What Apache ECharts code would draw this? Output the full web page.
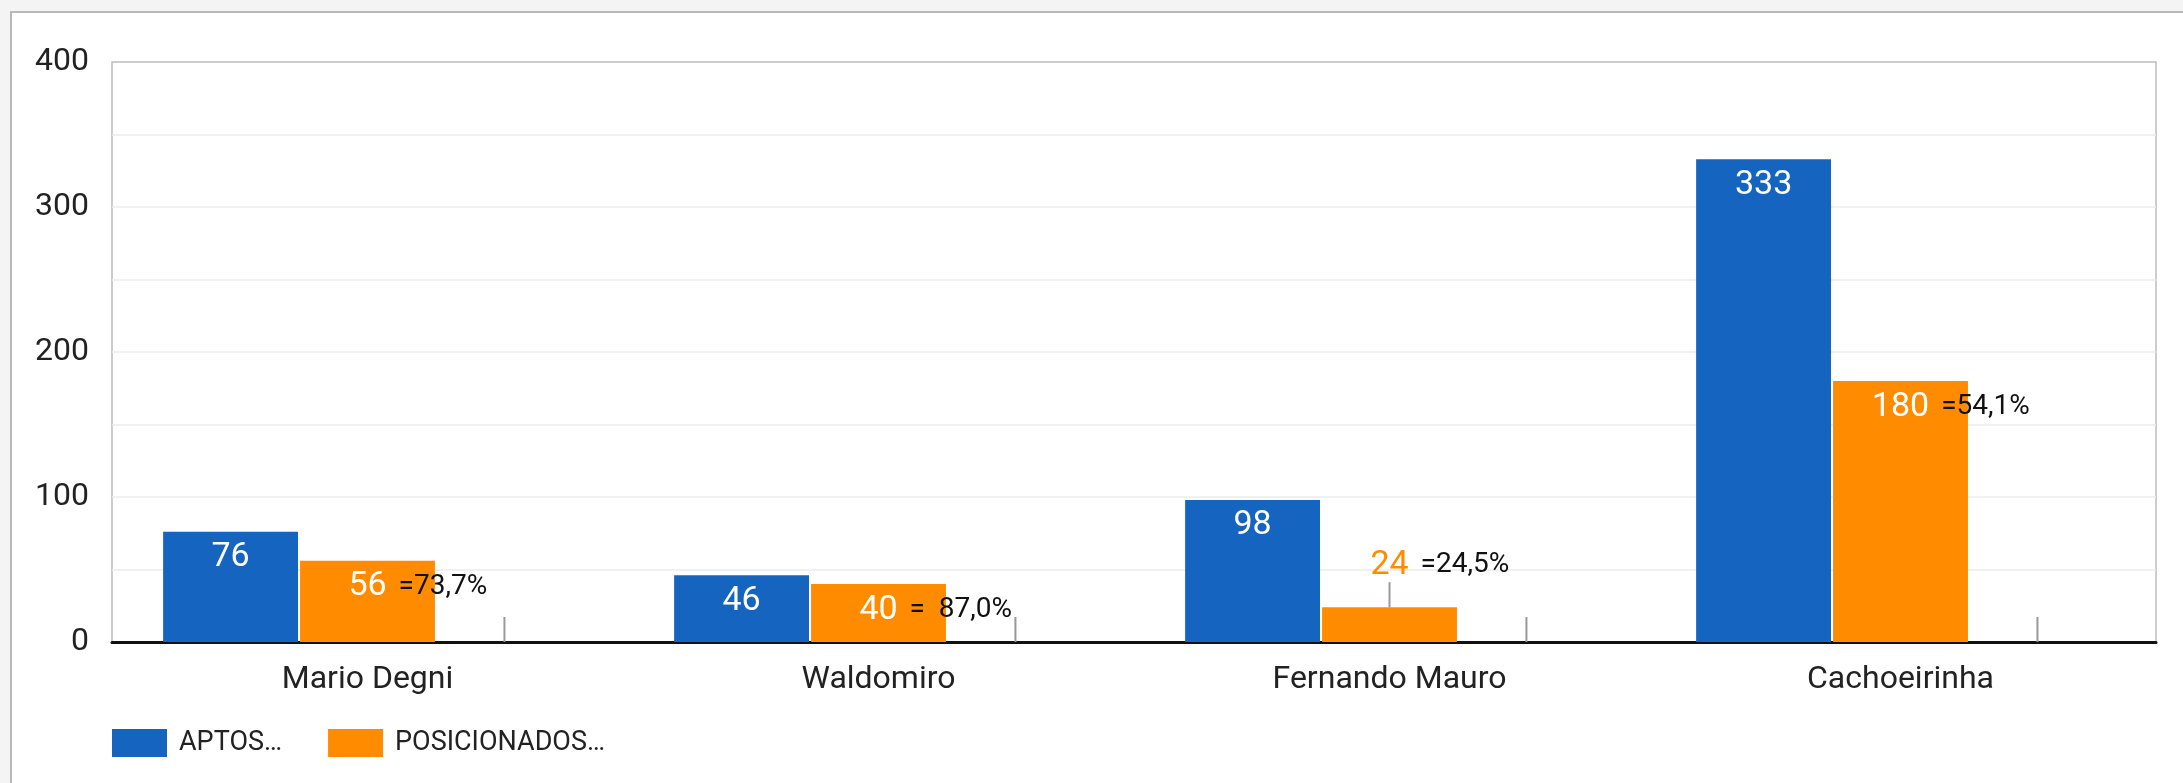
<!DOCTYPE html>
<html>
<head>
<meta charset="utf-8">
<title>Aptos x Posicionados</title>
<script src="https://cdn.jsdelivr.net/npm/echarts@6/dist/echarts.min.js"></script>
<style>
  html, body { margin: 0; padding: 0; background: #f4f4f4; overflow: hidden; }
  #card {
    position: absolute; left: 10px; top: 11px; width: 3000px; height: 2000px;
    background: #fff; border-left: 2px solid #b8b8b8; border-top: 2px solid #b8b8b8;
  }
  #chart { position: absolute; left: 0; top: 0; width: 2183px; height: 783px; }
</style>
</head>
<body>
<div id="card"></div>
<div id="chart"></div>
<script>
const categories = ['Mario Degni', 'Waldomiro', 'Fernando Mauro', 'Cachoeirinha'];
const aptos = [76, 46, 98, 333];
const posicionados = [56, 40, 24, 180];
const pctLabels = ['=73,7%', '=  87,0%', '=24,5%', '=54,1%'];
const stemValues = [0, 0, 0, 0];
const yTicks = [0, 100, 200, 300, 400];

const BLUE = '#1565c0';
const ORANGE = '#ff8c00';
const GAP = 12;
const NUM_SIZE = 34;
const PCT_SIZE = 28;

const measureCtx = document.createElement('canvas').getContext('2d');
function textWidth(s, size) {
    measureCtx.font = size + 'px Roboto';
    return measureCtx.measureText(s).width;
}

const stemStyle = { width: 2, height: 25, lineHeight: 25, backgroundColor: '#999', align: 'center' };

// orange labels: number centred on the bar, percentage to its right
const posData = posicionados.map((v, i) => {
    const outside = v < 30;
    return {
        value: v,
        label: {
            position: outside ? 'top' : 'insideTop',
            distance: outside ? 0 : 9,
            formatter: p => '{pad| }{v|' + p.value + '}{gap| }{p|' + pctLabels[p.dataIndex] + '}' +
                (outside ? '\n{stem| }' : ''),
            rich: {
                pad: { width: textWidth(pctLabels[i], PCT_SIZE) + GAP, lineHeight: 34, align: 'center' },
                v: { fontSize: NUM_SIZE, lineHeight: 34, color: outside ? ORANGE : '#fff', align: 'center', verticalAlign: 'middle' },
                gap: { width: GAP, lineHeight: 34, align: 'center' },
                p: { fontSize: PCT_SIZE, lineHeight: 34, color: '#111', align: 'center', verticalAlign: 'middle' },
                stem: stemStyle,
            },
        },
    };
});

const chart = echarts.init(document.getElementById('chart'));

const option = {
    animation: false,
    backgroundColor: 'transparent',
    textStyle: { fontFamily: 'Roboto' },
    grid: {
        left: 112, right: 27, top: 62, bottom: 141,
        show: true, backgroundColor: '#fff', borderColor: '#bdbdbd', borderWidth: 1.5,
    },
    legend: {
        data: ['APTOS…', 'POSICIONADOS…'],
        left: 112,
        top: 729,
        padding: 0,
        icon: 'rect',
        itemWidth: 55,
        itemHeight: 28,
        itemGap: 46,
        textStyle: { fontSize: 27, color: '#222', padding: [0, 0, 0, 7] },
    },
    xAxis: {
        type: 'category',
        data: categories,
        axisLine: { lineStyle: { color: '#111', width: 3 } },
        axisTick: { show: false },
        axisLabel: { fontSize: 32, color: '#222', margin: 22 },
    },
    yAxis: {
        type: 'value',
        min: yTicks[0],
        max: yTicks[yTicks.length - 1],
        interval: 100,
        axisLine: { show: false },
        axisTick: { show: false },
        axisLabel: { fontSize: 32, color: '#222', margin: 23 },
        splitLine: { showMaxLine: false, lineStyle: { color: '#ececec', width: 1.5 } },
        minorTick: { show: false, splitNumber: 2 },
        minorSplitLine: { show: true, lineStyle: { color: '#ececec', width: 1.5 } },
    },
    series: [
        {
            name: 'APTOS…',
            type: 'bar',
            data: aptos,
            barWidth: '26.4%',
            barGap: '1.5%',
            itemStyle: { color: BLUE },
            label: {
                show: true, position: 'insideTop', distance: 9,
                fontSize: NUM_SIZE, lineHeight: 34, color: '#fff',
            },
        },
        {
            name: 'POSICIONADOS…',
            type: 'bar',
            data: posData,
            barWidth: '26.4%',
            barGap: '1.5%',
            itemStyle: { color: ORANGE },
            label: { show: true },
        },
        {
            name: 'pct',
            type: 'bar',
            data: stemValues,
            barWidth: '26.4%',
            barGap: '1.5%',
            itemStyle: { color: 'rgba(0,0,0,0)' },
            label: {
                show: true, position: 'top', distance: 0,
                formatter: '{stem| }',
                rich: { stem: stemStyle },
            },
        },
    ],
};

chart.setOption(option);
window.addEventListener('resize', () => chart.resize());
</script>
</body>
</html>
